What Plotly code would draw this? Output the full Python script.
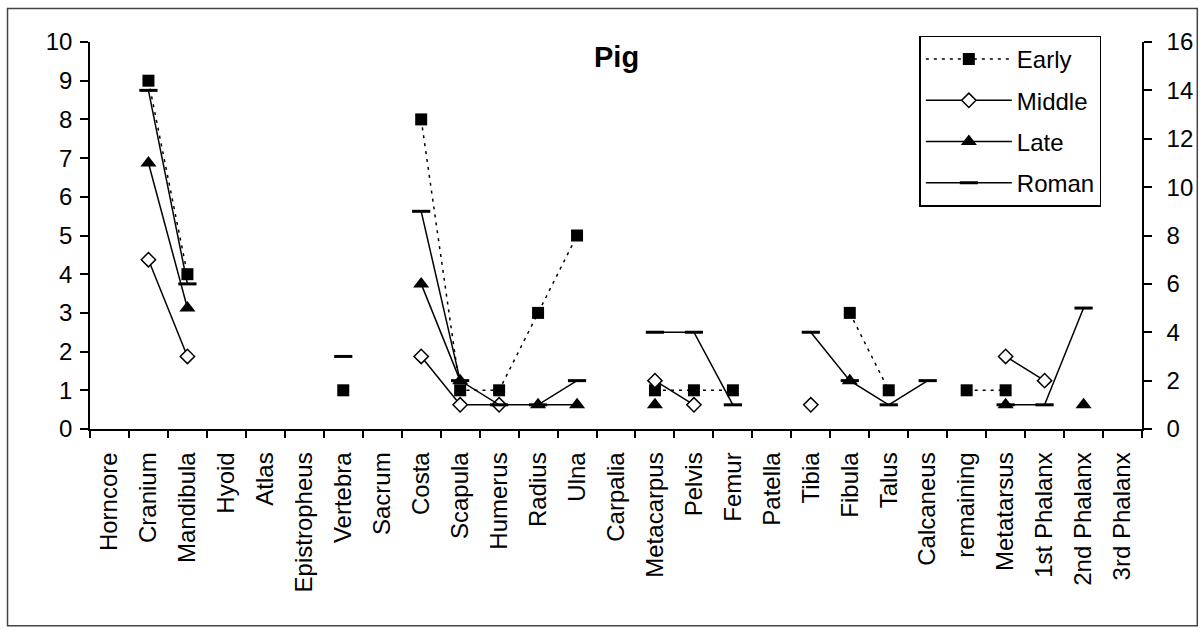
import plotly.graph_objects as go

categories = ["Horncore", "Cranium", "Mandibula", "Hyoid", "Atlas", "Epistropheus",
              "Vertebra", "Sacrum", "Costa", "Scapula", "Humerus", "Radius", "Ulna",
              "Carpalia", "Metacarpus", "Pelvis", "Femur", "Patella", "Tibia", "Fibula",
              "Talus", "Calcaneus", "remaining", "Metatarsus", "1st Phalanx",
              "2nd Phalanx", "3rd Phalanx"]

early = [None, 9, 4, None, None, None, 1, None, 8, 1, 1, 3, 5, None, 1, 1, 1, None,
         None, 3, 1, None, 1, 1, None, None, None]
middle = [None, 7, 3, None, None, None, None, None, 3, 1, 1, None, None, None, 2, 1,
          None, None, 1, None, None, None, None, 3, 2, None, None]
late = [None, 11, 5, None, None, None, None, None, 6, 2, None, 1, 1, None, 1, None,
        None, None, None, 2, None, None, None, 1, None, 1, None]
roman = [None, 14, 6, None, None, None, 3, None, 9, 2, 1, 1, 2, None, 4, 4, 1, None,
         4, 2, 1, 2, None, 1, 1, 5, None]

left_ticks = list(range(0, 11))
right_ticks = list(range(0, 17, 2))

FONT = "Arial, Liberation Sans, sans-serif"
BLK = "black"
FS = 24

fig = go.Figure()

fig.add_trace(go.Scatter(
    x=categories, y=early, name="Early", mode="lines+markers", legendgroup="a",
    line=dict(color=BLK, width=1.5, dash="3px,5px"),
    marker=dict(symbol="square", size=12, color=BLK),
    connectgaps=False, yaxis="y"))
fig.add_trace(go.Scatter(
    x=categories, y=middle, name="Middle", mode="lines+markers", legendgroup="b",
    line=dict(color=BLK, width=1.5),
    marker=dict(symbol="diamond", size=11, color="white", line=dict(color=BLK, width=1.5)),
    connectgaps=False, yaxis="y2"))
fig.add_trace(go.Scatter(
    x=categories, y=late, name="Late", mode="lines+markers", legendgroup="c",
    line=dict(color=BLK, width=1.5),
    marker=dict(symbol="triangle-up", size=14, color=BLK),
    connectgaps=False, yaxis="y2"))
fig.add_trace(go.Scatter(
    x=categories, y=roman, name="Roman", mode="lines+markers", legendgroup="d",
    line=dict(color=BLK, width=1.5),
    marker=dict(symbol="line-ew", size=13, color=BLK, line=dict(color=BLK, width=3)),
    connectgaps=False, yaxis="y2"))

L, R, T, B = 89.5, 62.3, 41.5, 204
W, H = 1204, 633
pw, ph = W - L - R, H - T - B

def px_x(x):
    return (x - L) / pw

def px_y(y):
    return (H - B - y) / ph

fig.update_layout(
    width=W, height=H,
    margin=dict(l=L, r=R, t=T, b=B, pad=0, autoexpand=False),
    paper_bgcolor="white", plot_bgcolor="white",
    font=dict(family=FONT, size=FS, color=BLK),
    showlegend=True,
    legend=dict(
        x=px_x(919), y=px_y(35), xanchor="left", yanchor="top",
        bgcolor="white", bordercolor=BLK, borderwidth=1.5,
        font=dict(family=FONT, size=FS, color=BLK),
        tracegroupgap=7, itemwidth=86),
    xaxis=dict(
        type="category", categoryorder="array", categoryarray=categories,
        range=[-0.5, len(categories) - 0.5], automargin=False,
        tickangle=-90, tickson="boundaries", ticks="outside", ticklen=7,
        tickwidth=1.5, tickcolor=BLK, showline=True, linecolor=BLK, linewidth=1.5,
        showgrid=False, zeroline=False, ticklabelstandoff=12,
        tickfont=dict(family=FONT, size=FS, color=BLK)),
    xaxis2=dict(
        overlaying="x", anchor="y", range=[-0.5, len(categories) - 0.5],
        automargin=False,
        tickmode="array", tickvals=[i - 0.5 for i in range(len(categories) + 1)],
        ticks="inside", ticklen=7, tickwidth=1.5, tickcolor=BLK,
        showticklabels=False, showline=False, showgrid=False, zeroline=False,
        side="bottom"),
    yaxis=dict(
        range=[0, 10], tickmode="array", tickvals=left_ticks, automargin=False,
        ticks="outside", ticklen=8, tickwidth=1.5, tickcolor=BLK,
        showline=True, linecolor=BLK, linewidth=1.5, showgrid=False, zeroline=False,
        ticklabelstandoff=3,
        tickfont=dict(family=FONT, size=FS, color=BLK)),
    yaxis2=dict(
        range=[0, 16], tickmode="array", tickvals=right_ticks, automargin=False,
        overlaying="y", side="right", anchor="x",
        ticks="outside", ticklen=8, tickwidth=1.5, tickcolor=BLK,
        showline=True, linecolor=BLK, linewidth=1.5, showgrid=False, zeroline=False,
        ticklabelstandoff=10,
        tickfont=dict(family=FONT, size=FS, color=BLK)),
    yaxis3=dict(
        range=[0, 10], tickmode="array", tickvals=left_ticks, automargin=False,
        overlaying="y", side="left", anchor="x",
        ticks="inside", ticklen=8, tickwidth=1.5, tickcolor=BLK,
        showticklabels=False, showline=False, showgrid=False, zeroline=False),
    yaxis4=dict(
        range=[0, 16], tickmode="array", tickvals=right_ticks, automargin=False,
        overlaying="y", side="right", anchor="x",
        ticks="inside", ticklen=8, tickwidth=1.5, tickcolor=BLK,
        showticklabels=False, showline=False, showgrid=False, zeroline=False),
)

fig.add_annotation(
    text="<b>Pig</b>", x=0.5, y=px_y(57), xref="paper", yref="paper",
    xanchor="center", yanchor="middle", showarrow=False,
    font=dict(family=FONT, size=29, color=BLK))

fig.add_shape(
    type="rect", xref="paper", yref="paper",
    x0=px_x(7), x1=px_x(1197), y0=px_y(626), y1=px_y(8),
    line=dict(color="#444444", width=1.5), fillcolor="rgba(0,0,0,0)", layer="below")

fig.write_html("out.html")
